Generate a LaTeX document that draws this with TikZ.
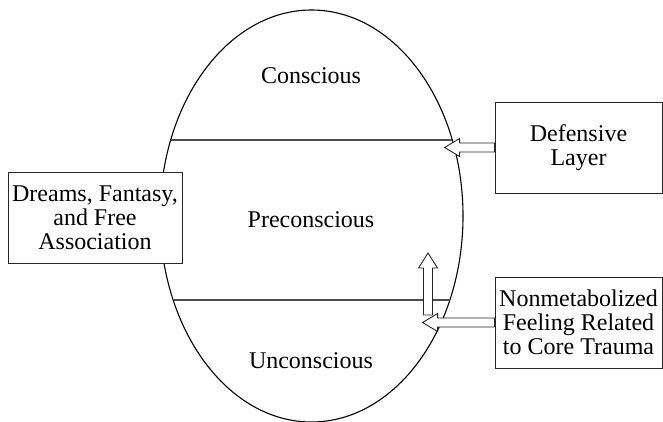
\documentclass[tikz,border=0pt]{standalone}
\usepackage{fontspec}
\setmainfont{Liberation Serif}
\usetikzlibrary{calc}
\begin{document}
\begin{tikzpicture}[x=1pt,y=-1pt, line width=0.9pt,
  txt/.style={font=\fontsize{24}{24}\selectfont, inner sep=0pt},
  box/.style={txt, draw=black!85, fill=white, align=center, minimum height=91pt},
  divider/.style={draw=black!70, line width=1.1pt},
  hollow/.style={draw=black!85, fill=white, line width=0.9pt, line join=miter}]
\useasboundingbox (0,0) rectangle (663,421);
\draw[line width=1.1pt] (311.5,216) ellipse [x radius=151.5, y radius=206];
\coordinate (l1a) at (170.7,140); \coordinate (l1b) at (452.3,140);
\coordinate (l2a) at (173.5,300); \coordinate (l2b) at (449.5,300);
\draw[divider] (l1a) -- (l1b);
\draw[divider] (l2a) -- (l2b);
\node[txt, anchor=base] (con) at (311,83) {Conscious};
\node[txt, anchor=base] (pre) at (311,227) {Preconscious};
\node[txt, anchor=base] (unc) at (311,368) {Unconscious};
\node[box, minimum width=167pt] (def) at (578.5,147.5) {Defensive\\Layer};
\node[box, minimum width=167pt] (nm) at (578.5,322.5) {Nonmetabolized\\Feeling Related\\to Core Trauma};
\node[box, minimum width=174pt] (dr) at (95,217.5) {Dreams, Fantasy,\\and Free\\Association};
\coordinate (up) at (428,315);
\draw[hollow] (def.west) ++(0,-4.5) -- ++(-35,0) -- ++(0,-4.5) -- ++(-15,9) -- ++(15,9) -- ++(0,-4.5) -- ++(35,0) -- cycle;
\draw[hollow] (nm.west) ++(0,-4.5) -- ++(-57,0) -- ++(0,-4.5) -- ++(-15,9) -- ++(15,9) -- ++(0,-4.5) -- ++(57,0) -- cycle;
\draw[hollow] (up) ++(-4.5,0) -- ++(0,-47) -- ++(-5,0) -- ++(9.5,-15) -- ++(9.5,15) -- ++(-5,0) -- ++(0,47) -- cycle;
\node[box, minimum width=167pt] at (def) {Defensive\\Layer};
\node[box, minimum width=167pt] at (nm) {Nonmetabolized\\Feeling Related\\to Core Trauma};
\end{tikzpicture}
\end{document}
